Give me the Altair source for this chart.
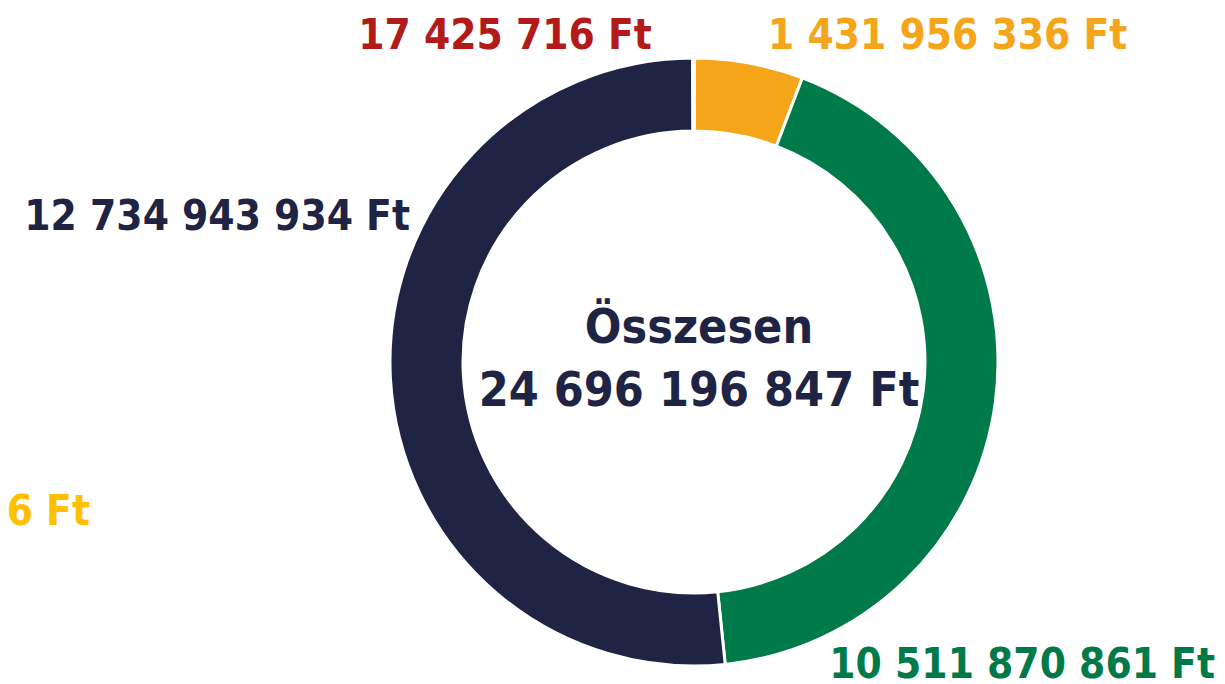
import altair as alt
import pandas as pd

# Data (clockwise from 12 o'clock)
categories = ["Kategória 1", "Kategória 2", "Kategória 3", "Kategória 4", "Kategória 5"]
values = [1431956336, 10511870861, 12734943934, 17425716, 8536]
slice_colors = ["#F5A51A", "#007A48", "#1F2444", "#B31B1B", "#FFC000"]
label_colors = ["#F5A51A", "#007A48", "#1F2444", "#B31B1B", "#FFC000"]
total_title = "Összesen"
total_label = "24 696 196 847 Ft"


def fmt(v):
    return f"{v:,}".replace(",", " ") + " Ft"


df = pd.DataFrame({
    "cat": categories,
    "value": values,
    "idx": list(range(len(categories))),
    "label": [fmt(v) for v in values],
})

FONT = "'DejaVu Sans Condensed', 'DejaVu Sans', sans-serif"
CX, CY = 686, 354

donut = alt.Chart(df).mark_arc(
    innerRadius=231, outerRadius=304, stroke="white", strokeWidth=3
).encode(
    theta=alt.Theta("value:Q", stack=True),
    color=alt.Color("cat:N", scale=alt.Scale(domain=categories, range=slice_colors), legend=None),
    order=alt.Order("idx:Q"),
    x=alt.value(CX),
    y=alt.value(CY),
)

# label placement (annotation layout)
placements = [
    (0, 760, 41, "left"),    # orange
    (1, 1207, 670, "right"),  # green
    (2, 402, 222, "right"),  # navy
    (3, 497, 41, "center"),  # red
    (4, 82, 517, "right"),   # yellow
]

layers = [donut]
for i, x, y, al in placements:
    layers.append(
        alt.Chart(df).transform_filter(alt.datum.idx == i).mark_text(
            font=FONT, fontSize=42, fontWeight="bold", align=al, baseline="alphabetic",
            color=label_colors[i],
        ).encode(text="label:N", x=alt.value(x), y=alt.value(y))
    )

center_df = pd.DataFrame({"t": [total_title, total_label], "line": [0, 1]})
layers.append(
    alt.Chart(center_df).transform_filter(alt.datum.line == 0).mark_text(
        font=FONT, fontSize=48, fontWeight="bold", align="center", baseline="alphabetic", color="#1F2444"
    ).encode(text="t:N", x=alt.value(691), y=alt.value(335))
)
layers.append(
    alt.Chart(center_df).transform_filter(alt.datum.line == 1).mark_text(
        font=FONT, fontSize=48, fontWeight="bold", align="center", baseline="alphabetic", color="#1F2444"
    ).encode(text="t:N", x=alt.value(691), y=alt.value(398))
)

chart = alt.layer(*layers).properties(
    width=1209, height=676, padding=0, autosize=alt.AutoSizeParams(type="none"), background="white"
).configure_view(stroke=None)

chart.save("out.html", embed_options={"renderer": "svg", "actions": False})
